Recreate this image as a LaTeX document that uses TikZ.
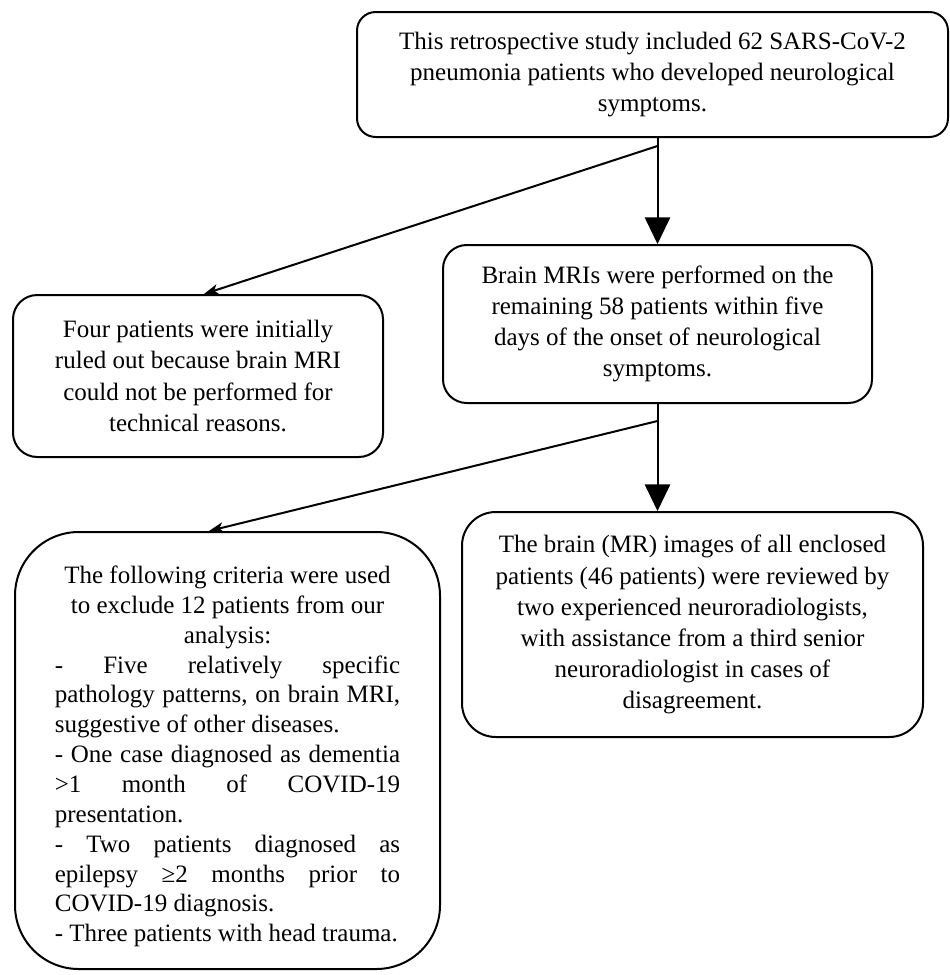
\documentclass[tikz,border=0pt]{standalone}
\usepackage{fontspec}
\setmainfont{Liberation Serif}
\usetikzlibrary{arrows.meta,calc}
\begin{document}
\begin{tikzpicture}[x=0.75pt,y=-0.75pt,
  box/.style={draw, line width=1.5pt, inner sep=0pt, font=\fontsize{18.75pt}{23.3pt}\selectfont},
  ctext/.style={align=center},
  bigarr/.style={line width=1.5pt, -{Triangle[length=20pt,width=19pt]}},
  smallarr/.style={line width=1.5pt, -{Stealth[length=11pt,width=8pt,inset=3pt]}}]
\useasboundingbox (0,0) rectangle (950,975);

\node[box, ctext, minimum width=443.25pt, minimum height=93.75pt, rounded corners=14pt] (b1) at (652.5,74.5)
  {This retrospective study included 62 SARS-CoV-2\\ pneumonia patients who developed neurological\\ symptoms.};

\node[box, ctext, minimum width=321.75pt, minimum height=118.5pt, rounded corners=17.8pt] (b2) at (657.5,324)
  {Brain MRIs were performed on the\\ remaining 58 patients within five\\ days of the onset of neurological\\ symptoms.};

\node[box, ctext, minimum width=277.5pt, minimum height=121.5pt, rounded corners=18.2pt] (b3) at (198,376)
  {Four patients were initially\\ ruled out because brain MRI\\ could not be performed for\\ technical reasons.};

\node[box, minimum width=318.75pt, minimum height=327.75pt, rounded corners=47.8pt] (b4) at (227.5,750.5)
  {\begin{minipage}{259pt}
   \fontsize{18.75pt}{22.4pt}\selectfont
   \tolerance=10000 \hyphenpenalty=10000 \exhyphenpenalty=10000
   \vspace*{9pt}
   {\centering The following criteria were used\\ to exclude 12 patients from our\\ analysis:\par}
   - Five relatively specific\linebreak pathology patterns, on brain MRI,\linebreak suggestive of other diseases.\par
   - One case diagnosed as dementia\linebreak >1 month of COVID-19\linebreak presentation.\par
   - Two patients diagnosed as\linebreak epilepsy ≥2 months prior to\linebreak COVID-19 diagnosis.\par
   - Three patients with head trauma.
   \end{minipage}};

\node[box, ctext, minimum width=345.75pt, minimum height=168.75pt, rounded corners=25.3pt] (b5) at (692.5,624.5)
  {The brain (MR) images of all enclosed\\ patients (46 patients) were reviewed by\\ two experienced neuroradiologists,\\ with assistance from a third senior\\ neuroradiologist in cases of\\ disagreement.};

\coordinate (j1) at (657.5,146);
\coordinate (j2) at (657.5,421);
\coordinate (e1) at (204,0);
\coordinate (e2) at (209,0);

\draw[bigarr] (b1.south -| b2.north) -- (b2.north);
\draw[smallarr] (j1) -- (b3.north -| e1);
\draw[bigarr] (b2.south) -- (b2.south |- b5.north);
\draw[smallarr] (j2) -- (b4.north -| e2);
\end{tikzpicture}
\end{document}
